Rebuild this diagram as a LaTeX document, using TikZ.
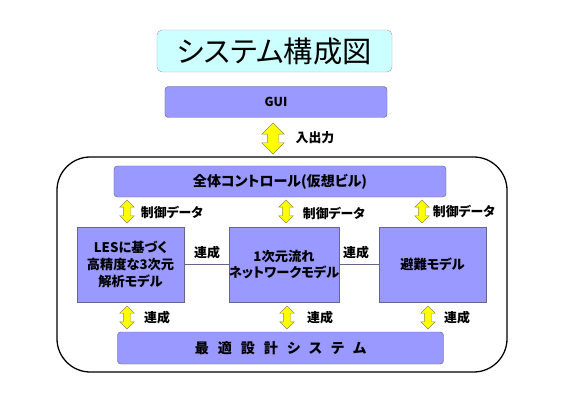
\documentclass[tikz,border=0pt]{standalone}
\usepackage{fontspec}
\setmainfont[RawFeature=+palt]{Noto Sans CJK JP}
\usetikzlibrary{shapes.arrows}
\definecolor{boxblue}{HTML}{9999FF}
\definecolor{titlecyan}{HTML}{CCFFFF}
\definecolor{arrowyellow}{HTML}{FFFF00}
\definecolor{arrowline}{HTML}{8C8C5A}
\definecolor{boxline}{HTML}{66668C}
\begin{document}
\begin{tikzpicture}[x=0.03cm,y=-0.03cm]
    \tikzstyle{box}=[draw=boxline,fill=boxblue,inner sep=0pt,font=\fontsize{12}{14}\selectfont\bfseries]
    \tikzstyle{model}=[box,minimum width=3.21cm,minimum height=2.25cm,align=center,font=\fontsize{11.3}{14.2}\selectfont\bfseries]
    \tikzstyle{lbl}=[font=\fontsize{11}{13}\selectfont\bfseries]
    \tikzset{bigarrow/.style = {double arrow,draw=arrowline,fill=arrowyellow,rotate=90,inner xsep=0pt,inner ysep=0.165cm,double arrow head extend=0.165cm,minimum height=0.93cm}}
    \tikzset{smallarrow/.style = {bigarrow,inner ysep=0.105cm,double arrow head extend=0.105cm,minimum height=0.69cm}}
    \useasboundingbox (0,0) rectangle (563,401);
    % title and GUI
    \node[draw=boxline!60,fill=titlecyan,rounded corners=0.15cm,minimum width=7.05cm,minimum height=1.26cm,inner sep=0pt,font=\fontsize{25}{28}\selectfont] (title) at (274.5,51) {システム構成図};
    \node[box,rounded corners=0.1cm,minimum width=6.66cm,minimum height=0.93cm,font=\fontsize{10.5}{12}\selectfont\bfseries] (gui) at (276,102) {GUI};
    \node[bigarrow] (io) at (273,138.5) {};
    \node[lbl] (iolbl) at (315,138) {入出力};
    % whole system
    \node[draw,line width=1.1pt,rounded corners=1cm,minimum width=13.5cm,minimum height=6.45cm,inner sep=0pt] (sys) at (282,264.5) {};
    \node[box,rounded corners=0.1cm,minimum width=9.96cm,minimum height=0.93cm] (ctrl) at (280,181.5) {全体コントロール(仮想ビル)};
    \node[model] (les) at (130.5,264.5) {LESに基づく\\高精度な3次元\\解析モデル};
    \node[model] (net) at (284,264.5) {1次元流れ\\ネットワークモデル};
    \node[model] (evac) at (432.5,264.5) {避難モデル};
    \node[box,rounded corners=0.1cm,minimum width=9.78cm,minimum height=0.96cm] (opt) at (280.5,348) {最\hspace{0.27cm}適\hspace{0.27cm}設\hspace{0.27cm}計\hspace{0.27cm}シ\hspace{0.27cm}ス\hspace{0.27cm}テ\hspace{0.27cm}ム};
    \draw[boxline] (les) -- (net);
    \draw[boxline] (net) -- (evac);
    \node[lbl] (c1) at (207,253) {連成};
    \node[lbl] (c2) at (356,253) {連成};
    % control data arrows
    \node[smallarrow] (d1) at (127,211.5) {};
    \node[smallarrow] (d2) at (286,211.5) {};
    \node[smallarrow] (d3) at (422,211.5) {};
    \node[lbl] (d1lbl) at (172,212) {制御データ};
    \node[lbl] (d2lbl) at (334,213) {制御データ};
    \node[lbl] (d3lbl) at (464,211) {制御データ};
    % coupling arrows
    \node[smallarrow] (e1) at (127,317.5) {};
    \node[smallarrow] (e2) at (287,317.5) {};
    \node[smallarrow] (e3) at (428,317.5) {};
    \node[lbl] (e1lbl) at (157,318) {連成};
    \node[lbl] (e2lbl) at (320,318) {連成};
    \node[lbl] (e3lbl) at (457,318) {連成};
\end{tikzpicture}
\end{document}
